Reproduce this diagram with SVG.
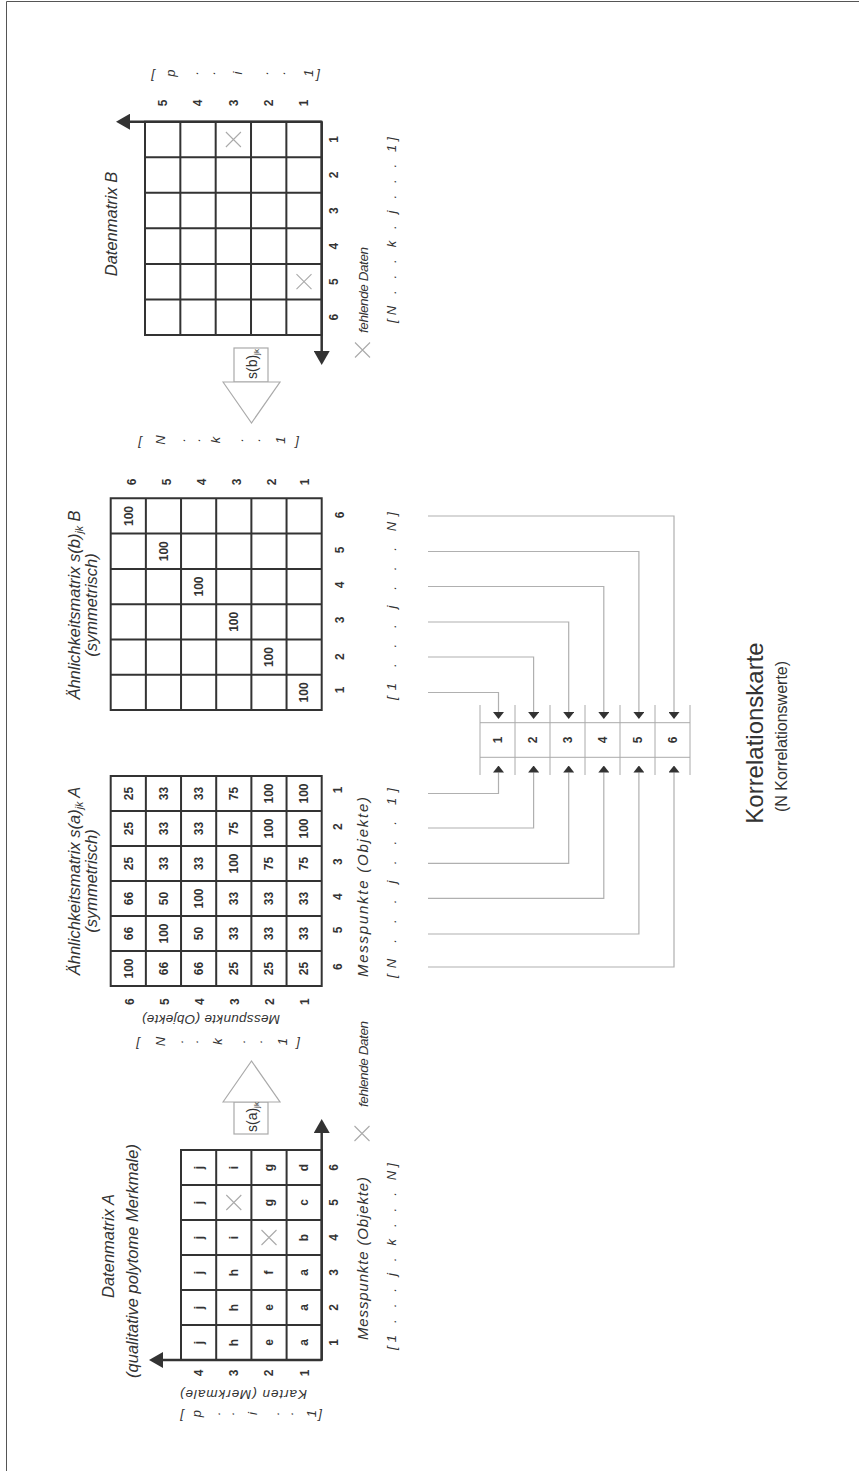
<svg xmlns="http://www.w3.org/2000/svg" width="859" height="1471" viewBox="0 0 859 1471">
<style>
.gr{fill:none;stroke:#333;stroke-width:2}
.ax{fill:none;stroke:#333;stroke-width:2.5}
.t{font-family:"Liberation Sans",Arial,sans-serif;fill:#333}
.n{font-size:12px;font-weight:bold;text-anchor:middle}
.ti{font-size:16.5px;font-style:italic;text-anchor:middle}
.lb{font-size:13.5px;font-style:italic;text-anchor:middle}
.ms{font-size:15px;font-style:italic;text-anchor:middle}
.br{font-size:13px;font-style:italic;text-anchor:middle}
.mx{stroke:#aaa;stroke-width:1.1;fill:none}
.ha{fill:#fff;stroke:#aaa;stroke-width:1.2}
.cn{fill:none;stroke:#b0b0b0;stroke-width:1.2}
.st{stroke:#aaa;stroke-width:1;fill:none}
</style>
<defs>
<marker id="axh" markerUnits="userSpaceOnUse" markerWidth="14" markerHeight="16" refX="0" refY="8" orient="auto" viewBox="0 0 14 16"><path d="M0 0L14 8L0 16Z" fill="#333"/></marker>
<marker id="cah" markerUnits="userSpaceOnUse" markerWidth="7" markerHeight="11" refX="0" refY="5.5" orient="auto" viewBox="0 0 7 11"><path d="M0 0L7 5.5L0 11Z" fill="#333"/></marker>
</defs>
<rect x="0" y="0" width="859" height="1471" fill="#fff"/>
<path d="M6.5 1.5H859M6.5 1.5V1471" fill="none" stroke="#555" stroke-width="1"/>

<g id="connectors">
<path class="cn" marker-end="url(#cah)" d="M428 516H674V712"/>
<path class="cn" marker-end="url(#cah)" d="M428 551.5H638.9V712"/>
<path class="cn" marker-end="url(#cah)" d="M428 586.5H603.8V712"/>
<path class="cn" marker-end="url(#cah)" d="M428 622H568.7V712"/>
<path class="cn" marker-end="url(#cah)" d="M428 657H533.6V712"/>
<path class="cn" marker-end="url(#cah)" d="M428 692.5H498.5V712"/>
<path class="cn" marker-end="url(#cah)" d="M428 793.5H498.5V772.5"/>
<path class="cn" marker-end="url(#cah)" d="M428 828H533.6V772.5"/>
<path class="cn" marker-end="url(#cah)" d="M428 863.3H568.7V772.5"/>
<path class="cn" marker-end="url(#cah)" d="M428 898.3H603.8V772.5"/>
<path class="cn" marker-end="url(#cah)" d="M428 934H638.9V772.5"/>
<path class="cn" marker-end="url(#cah)" d="M428 967H674V772.5"/>
</g>

<g id="klammern-quer" class="t br">
<text x="182" y="1418">[</text><text x="320" y="1418">]</text>
<text x="153" y="77.5">[</text><text x="318" y="77.5">]</text>
<text x="138" y="1046">[</text><text x="298" y="1046">]</text>
<text x="140" y="444.5">[</text><text x="297" y="444.5">]</text>
</g>

<g transform="translate(0 1471) rotate(-90)">

<g id="klammern-quer-inhalt" class="t br">
<text x="57.5" y="200.7">p</text><text x="57.5" y="219.9">.</text><text x="57.5" y="234.2">.</text><text x="57.5" y="256.7">i</text><text x="57.5" y="278.5">.</text><text x="57.5" y="292.7">.</text><text x="57.5" y="316.1">1</text>
<text x="1398" y="174.5">p</text><text x="1398" y="197.5">.</text><text x="1398" y="214.5">.</text><text x="1398" y="241.5">i</text><text x="1398" y="267.5">.</text><text x="1398" y="284.5">.</text><text x="1398" y="312.5">1</text>
<text x="429.5" y="164.5">N</text><text x="429.5" y="182.5">.</text><text x="429.5" y="197.5">.</text><text x="429.5" y="221.5">k</text><text x="429.5" y="244.5">.</text><text x="429.5" y="261.5">.</text><text x="429.5" y="286.5">1</text>
<text x="1031" y="164.5">N</text><text x="1031" y="184.5">.</text><text x="1031" y="199.5">.</text><text x="1031" y="219.5">k</text><text x="1031" y="242.5">.</text><text x="1031" y="259.5">.</text><text x="1031" y="284.5">1</text>
</g>

<g id="datenmatrix-a">
<path class="gr" d="M111 181H321V321.7H111Z M146 181V321.7 M181 181V321.7 M216 181V321.7 M251 181V321.7 M286 181V321.7 M111 216.2H321 M111 251.4H321 M111 286.6H321"/>
<path class="ax" marker-end="url(#axh)" d="M111 321.7H338"/>
<path class="ax" marker-end="url(#axh)" d="M111 321.7V163"/>
<g class="t n">
<text x="128.5" y="202.6">j</text><text x="163.5" y="202.6">j</text><text x="198.5" y="202.6">j</text><text x="233.5" y="202.6">j</text><text x="268.5" y="202.6">j</text><text x="303.5" y="202.6">j</text>
<text x="128.5" y="237.8">h</text><text x="163.5" y="237.8">h</text><text x="198.5" y="237.8">h</text><text x="233.5" y="237.8">i</text><text x="303.5" y="237.8">i</text>
<text x="128.5" y="273">e</text><text x="163.5" y="273">e</text><text x="198.5" y="273">f</text><text x="268.5" y="273">g</text><text x="303.5" y="273">g</text>
<text x="128.5" y="308.2">a</text><text x="163.5" y="308.2">a</text><text x="198.5" y="308.2">a</text><text x="233.5" y="308.2">b</text><text x="268.5" y="308.2">c</text><text x="303.5" y="308.2">d</text>
<text x="128.5" y="337.5">1</text><text x="163.5" y="337.5">2</text><text x="198.5" y="337.5">3</text><text x="233.5" y="337.5">4</text><text x="268.5" y="337.5">5</text><text x="303.5" y="337.5">6</text>
<text x="98" y="202.9">4</text><text x="98" y="238.1">3</text><text x="98" y="273.3">2</text><text x="98" y="308.5">1</text>
</g>
<path class="mx" d="M261 226.3L276 241.3M261 241.3L276 226.3 M226 261.5L241 276.5M226 276.5L241 261.5 M330 354.5L345 369.5M330 369.5L345 354.5"/>
<text class="t lb" x="81.3" y="243.5" transform="rotate(-90 81.3 243.5)" textLength="127" lengthAdjust="spacing">Karten (Merkmale)</text>
<text class="t ms" x="212.5" y="367.5" textLength="163" lengthAdjust="spacing">Messpunkte (Objekte)</text>
<text class="t br" x="214.5" y="396" textLength="187" lengthAdjust="spacing">[1 . . . j . k . . . N]</text>
<text class="t lb" x="364" y="368" style="text-anchor:start" textLength="86" lengthAdjust="spacing">fehlende Daten</text>
<text class="t ti" x="225" y="113.5">Datenmatrix A</text>
<text class="t ti" x="210" y="138">(qualitative polytome Merkmale)</text>
</g>

<g id="pfeil-sa">
<rect class="ha" x="337" y="234" width="32" height="34"/>
<path class="ha" d="M369 223L410 251.5L369 280Z"/>
<text class="t" x="339" y="257" font-size="14">s(a)<tspan font-size="8" dy="2">jk</tspan></text>
</g>

<g id="aehnlichkeitsmatrix-a">
<path class="gr" d="M485 110.7H695V321.7H485Z M520 110.7V321.7 M555 110.7V321.7 M590 110.7V321.7 M625 110.7V321.7 M660 110.7V321.7 M485 145.87H695 M485 181.04H695 M485 216.21H695 M485 251.38H695 M485 286.55H695"/>
<g class="t n">
<text x="502.5" y="132.6">100</text><text x="537.5" y="132.6">66</text><text x="572.5" y="132.6">66</text><text x="607.5" y="132.6">25</text><text x="642.5" y="132.6">25</text><text x="677.5" y="132.6">25</text>
<text x="502.5" y="167.8">66</text><text x="537.5" y="167.8">100</text><text x="572.5" y="167.8">50</text><text x="607.5" y="167.8">33</text><text x="642.5" y="167.8">33</text><text x="677.5" y="167.8">33</text>
<text x="502.5" y="202.9">66</text><text x="537.5" y="202.9">50</text><text x="572.5" y="202.9">100</text><text x="607.5" y="202.9">33</text><text x="642.5" y="202.9">33</text><text x="677.5" y="202.9">33</text>
<text x="502.5" y="238.1">25</text><text x="537.5" y="238.1">33</text><text x="572.5" y="238.1">33</text><text x="607.5" y="238.1">100</text><text x="642.5" y="238.1">75</text><text x="677.5" y="238.1">75</text>
<text x="502.5" y="273.3">25</text><text x="537.5" y="273.3">33</text><text x="572.5" y="273.3">33</text><text x="607.5" y="273.3">75</text><text x="642.5" y="273.3">100</text><text x="677.5" y="273.3">100</text>
<text x="502.5" y="308.4">25</text><text x="537.5" y="308.4">33</text><text x="572.5" y="308.4">33</text><text x="607.5" y="308.4">75</text><text x="642.5" y="308.4">100</text><text x="677.5" y="308.4">100</text>
<text x="504.3" y="342.3">6</text><text x="541" y="342.3">5</text><text x="574.3" y="342.3">4</text><text x="609.3" y="342.3">3</text><text x="644.3" y="342.3">2</text><text x="681" y="342.3">1</text>
<text x="469.3" y="134.3">6</text><text x="469.3" y="169.3">5</text><text x="469.3" y="204.3">4</text><text x="469.3" y="239.3">3</text><text x="469.3" y="274.3">2</text><text x="469.3" y="309.3">1</text>
</g>
<text class="t ms" x="584" y="368" textLength="180" lengthAdjust="spacing">Messpunkte (Objekte)</text>
<text class="t br" x="588" y="396" textLength="190" lengthAdjust="spacing">[N . . . j . . . 1]</text>
<text class="t lb" x="456.3" y="211" transform="rotate(-90 456.3 211)" textLength="138" lengthAdjust="spacing">Messpunkte (Objekte)</text>
<text class="t ti" x="590" y="80" font-size="17.5">Ähnlichkeitsmatrix s(a)<tspan font-size="10.5" dy="3">jk</tspan><tspan dy="-3"> A</tspan></text>
<text class="t ti" x="590" y="97" font-size="15">(symmetrisch)</text>
</g>

<g id="aehnlichkeitsmatrix-b">
<path class="gr" d="M761 110.7H972.68V321.7H761Z M796.28 110.7V321.7 M831.56 110.7V321.7 M866.84 110.7V321.7 M902.12 110.7V321.7 M937.4 110.7V321.7 M761 145.87H972.68 M761 181.04H972.68 M761 216.21H972.68 M761 251.38H972.68 M761 286.55H972.68"/>
<g class="t n">
<text x="778.64" y="308.4">100</text><text x="813.92" y="273.3">100</text><text x="849.2" y="238.1">100</text><text x="884.48" y="202.9">100</text><text x="919.76" y="167.8">100</text><text x="955.04" y="132.6">100</text>
<text x="781" y="343.5">1</text><text x="814.3" y="343.5">2</text><text x="851" y="343.5">3</text><text x="886" y="343.5">4</text><text x="921" y="343.5">5</text><text x="956" y="343.5">6</text>
<text x="989" y="136">6</text><text x="989" y="171">5</text><text x="989" y="206">4</text><text x="989" y="241">3</text><text x="989" y="276">2</text><text x="989" y="309.3">1</text>
</g>
<text class="t br" x="865" y="396" textLength="188" lengthAdjust="spacing">[1 . . . j . . . N]</text>
<text class="t ti" x="866" y="80" font-size="17.5">Ähnlichkeitsmatrix s(b)<tspan font-size="10.5" dy="3">jk</tspan><tspan dy="-3"> B</tspan></text>
<text class="t ti" x="866" y="97" font-size="15">(symmetrisch)</text>
</g>

<g id="pfeil-sb">
<rect class="ha" x="1089" y="234" width="34" height="34"/>
<path class="ha" d="M1089 223L1048 251.5L1089 280Z"/>
<text class="t" x="1092" y="257" font-size="14">s(b)<tspan font-size="8" dy="2">jk</tspan></text>
</g>

<g id="datenmatrix-b">
<path class="gr" d="M1136 145H1349.3V321.7H1136Z M1171.55 145V321.7 M1207.1 145V321.7 M1242.65 145V321.7 M1278.2 145V321.7 M1313.75 145V321.7 M1136 180.34H1349.3 M1136 215.68H1349.3 M1136 251.02H1349.3 M1136 286.36H1349.3"/>
<path class="ax" marker-end="url(#axh)" d="M1349.3 321.7H1120"/>
<path class="ax" marker-end="url(#axh)" d="M1349.3 321.7V130"/>
<path class="mx" d="M1324 225.9L1339 240.9M1324 240.9L1339 225.9 M1181.8 296.5L1196.8 311.5M1181.8 311.5L1196.8 296.5 M1113.5 355L1128.5 370M1113.5 370L1128.5 355"/>
<g class="t n">
<text x="1331.5" y="337.5">1</text><text x="1296" y="337.5">2</text><text x="1260.4" y="337.5">3</text><text x="1224.9" y="337.5">4</text><text x="1189.3" y="337.5">5</text><text x="1153.8" y="337.5">6</text>
<text x="1368" y="167">5</text><text x="1368" y="202.3">4</text><text x="1368" y="237.7">3</text><text x="1368" y="273">2</text><text x="1368" y="308.3">1</text>
</g>
<text class="t lb" x="1138" y="368" style="text-anchor:start" textLength="86" lengthAdjust="spacing">fehlende Daten</text>
<text class="t br" x="1241" y="396" textLength="186" lengthAdjust="spacing">[N . . . k . j . . . 1]</text>
<text class="t ti" x="1247" y="116.5">Datenmatrix B</text>
</g>

<g id="korrelationskarte">
<path class="st" d="M713.7 480V690 M748.3 480V690 M696 480H766 M696 515H766 M696 550H766 M696 585H766 M696 620H766 M696 655H766 M696 690H766"/>
<g class="t n">
<text x="731" y="502.3">1</text><text x="731" y="537.3">2</text><text x="731" y="572.3">3</text><text x="731" y="607.3">4</text><text x="731" y="642.3">5</text><text x="731" y="677.3">6</text>
</g>
<text class="t" x="738" y="763" font-size="24" text-anchor="middle" fill="#444">Korrelationskarte</text>
<text class="t" x="734.5" y="787" font-size="16" text-anchor="middle" fill="#444">(N Korrelationswerte)</text>
</g>

</g>
</svg>
